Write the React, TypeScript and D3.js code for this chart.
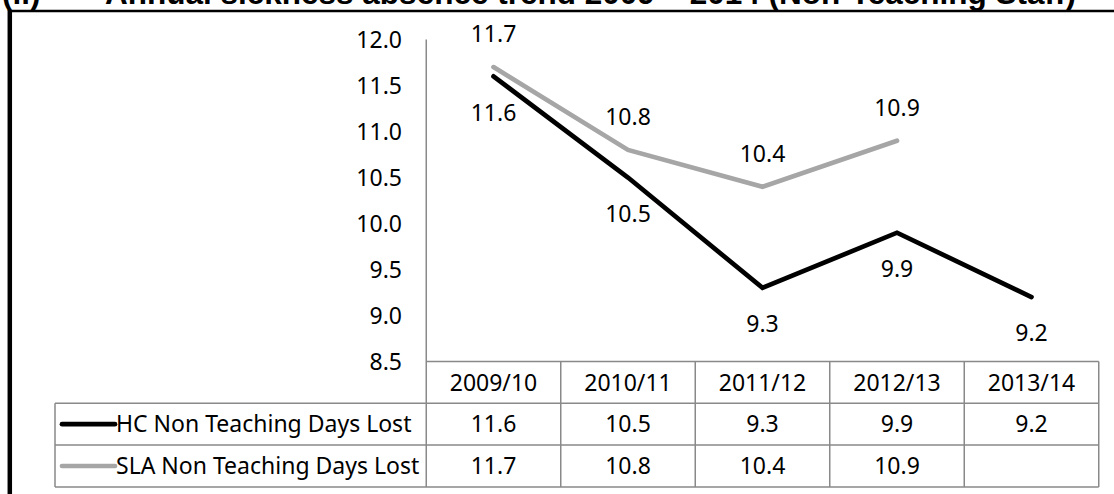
import { useEffect, useRef } from 'react';
import * as d3 from 'd3';

const categories = ['2009/10', '2010/11', '2011/12', '2012/13', '2013/14'];
const hcValues: (number | null)[] = [11.6, 10.5, 9.3, 9.9, 9.2];
const slaValues: (number | null)[] = [11.7, 10.8, 10.4, 10.9, null];
const yTicks = [8.5, 9.0, 9.5, 10.0, 10.5, 11.0, 11.5, 12.0];
const seriesNames = ['HC Non Teaching Days Lost', 'SLA Non Teaching Days Lost'];

const FONT = '"Noto Sans", "Open Sans", sans-serif';

export default function App() {
  const svgRef = useRef<SVGSVGElement | null>(null);

  useEffect(() => {
    document.body.style.margin = '0';
    if (!svgRef.current) return;
    const width = 1114;
    const height = 494;

    const svg = d3.select(svgRef.current).attr('width', width).attr('height', height);
    svg.selectAll('*').remove();

    const x = d3.scaleBand<string>().domain(categories).range([426.25, 1098.75]);
    const y = d3.scaleLinear().domain([8.5, 12]).range([361.5, 39.5]);

    const gridColor = '#898989';
    const black = '#000000';
    const grey = '#a6a6a6';

    // title (clipped at the top edge)
    svg
      .append('text')
      .attr('x', 2)
      .attr('y', 3.5)
      .attr('font-family', '"Liberation Sans", Arial, sans-serif')
      .attr('font-weight', 'bold')
      .attr('font-size', 31.5)
      .text('(ii)');
    svg
      .append('text')
      .attr('x', 105)
      .attr('y', 3.5)
      .attr('font-family', '"Liberation Sans", Arial, sans-serif')
      .attr('font-weight', 'bold')
      .attr('font-size', 31.5)
      .text('Annual sickness absence trend 2009 – 2014 (Non-Teaching Staff)');

    // frame
    svg.append('line').attr('x1', 8).attr('x2', width).attr('y1', 11).attr('y2', 11)
      .attr('stroke', black).attr('stroke-width', 2.5);
    svg.append('line').attr('x1', 9.8).attr('x2', 9.8).attr('y1', 10).attr('y2', height)
      .attr('stroke', black).attr('stroke-width', 4.5);

    // y axis
    const yAxis = svg.append('g');
    yAxis
      .selectAll('text')
      .data(yTicks)
      .enter()
      .append('text')
      .attr('x', 402)
      .attr('y', (d) => y(d))
      .attr('dy', '0.36em')
      .attr('text-anchor', 'end')
      .attr('font-family', FONT)
      .attr('font-size', 23)
      .attr('fill', black)
      .text((d) => d3.format('.1f')(d));

    const x0 = x.range()[0];
    const x1 = x.range()[1];
    const rowTop = y(8.5);
    const rowH = 41.8;
    const legendLeft = 55;

    const table = svg.append('g').attr('stroke', gridColor).attr('stroke-width', 1.5).attr('fill', 'none');
    // y axis line running into the table
    table.append('line').attr('x1', x0).attr('x2', x0).attr('y1', y(12)).attr('y2', rowTop + rowH * 3);
    // horizontal rules
    table.append('line').attr('x1', x0).attr('x2', x1).attr('y1', rowTop).attr('y2', rowTop);
    [1, 2, 3].forEach((i) => {
      table
        .append('line')
        .attr('x1', legendLeft)
        .attr('x2', x1)
        .attr('y1', rowTop + rowH * i)
        .attr('y2', rowTop + rowH * i);
    });
    // vertical rules
    table.append('line').attr('x1', legendLeft).attr('x2', legendLeft).attr('y1', rowTop + rowH).attr('y2', rowTop + rowH * 3);
    categories.forEach((c) => {
      const xe = (x(c) as number) + x.bandwidth();
      table.append('line').attr('x1', xe).attr('x2', xe).attr('y1', rowTop).attr('y2', rowTop + rowH * 3);
    });

    // header labels
    svg
      .append('g')
      .selectAll('text')
      .data(categories)
      .enter()
      .append('text')
      .attr('x', (d) => (x(d) as number) + x.bandwidth() / 2)
      .attr('y', rowTop + rowH / 2)
      .attr('dy', '0.36em')
      .attr('text-anchor', 'middle')
      .attr('font-family', FONT)
      .attr('font-size', 23)
      .text((d) => d);

    const series = [
      { name: seriesNames[0], values: hcValues, color: black, labelDy: 36 },
      { name: seriesNames[1], values: slaValues, color: grey, labelDy: -33 },
    ];

    const line = d3
      .line<{ c: string; v: number | null }>()
      .defined((d) => d.v != null)
      .x((d) => (x(d.c) as number) + x.bandwidth() / 2)
      .y((d) => y(d.v as number));

    // draw grey first so black sits on top
    [...series].reverse().forEach((s) => {
      const pts = categories.map((c, i) => ({ c, v: s.values[i] }));
      svg
        .append('path')
        .datum(pts)
        .attr('d', line)
        .attr('fill', 'none')
        .attr('stroke', s.color)
        .attr('stroke-width', 4.7)
        .attr('stroke-linecap', 'round')
        .attr('stroke-linejoin', 'miter');
    });

    series.forEach((s, si) => {
      const pts = categories.map((c, i) => ({ c, v: s.values[i] })).filter((d) => d.v != null);
      // data labels
      svg
        .append('g')
        .selectAll('text')
        .data(pts)
        .enter()
        .append('text')
        .attr('x', (d) => (x(d.c) as number) + x.bandwidth() / 2)
        .attr('y', (d) => y(d.v as number) + s.labelDy)
        .attr('dy', '0.36em')
        .attr('text-anchor', 'middle')
        .attr('font-family', FONT)
        .attr('font-size', 23)
        .text((d) => d3.format('.1f')(d.v as number));

      // table row
      const ry = rowTop + rowH * (si + 1) + rowH / 2;
      svg
        .append('line')
        .attr('x1', 62)
        .attr('x2', 115)
        .attr('y1', ry)
        .attr('y2', ry)
        .attr('stroke', s.color)
        .attr('stroke-width', 4.7)
        .attr('stroke-linecap', 'round');
      svg
        .append('text')
        .attr('x', 116)
        .attr('y', ry)
        .attr('dy', '0.36em')
        .attr('font-family', FONT)
        .attr('font-size', 23)
        .text(s.name);
      svg
        .append('g')
        .selectAll('text')
        .data(pts)
        .enter()
        .append('text')
        .attr('x', (d) => (x(d.c) as number) + x.bandwidth() / 2)
        .attr('y', ry)
        .attr('dy', '0.36em')
        .attr('text-anchor', 'middle')
        .attr('font-family', FONT)
        .attr('font-size', 23)
        .text((d) => d3.format('.1f')(d.v as number));
    });
  }, []);

  return <svg ref={svgRef} style={{ display: 'block', background: '#ffffff' }} />;
}
